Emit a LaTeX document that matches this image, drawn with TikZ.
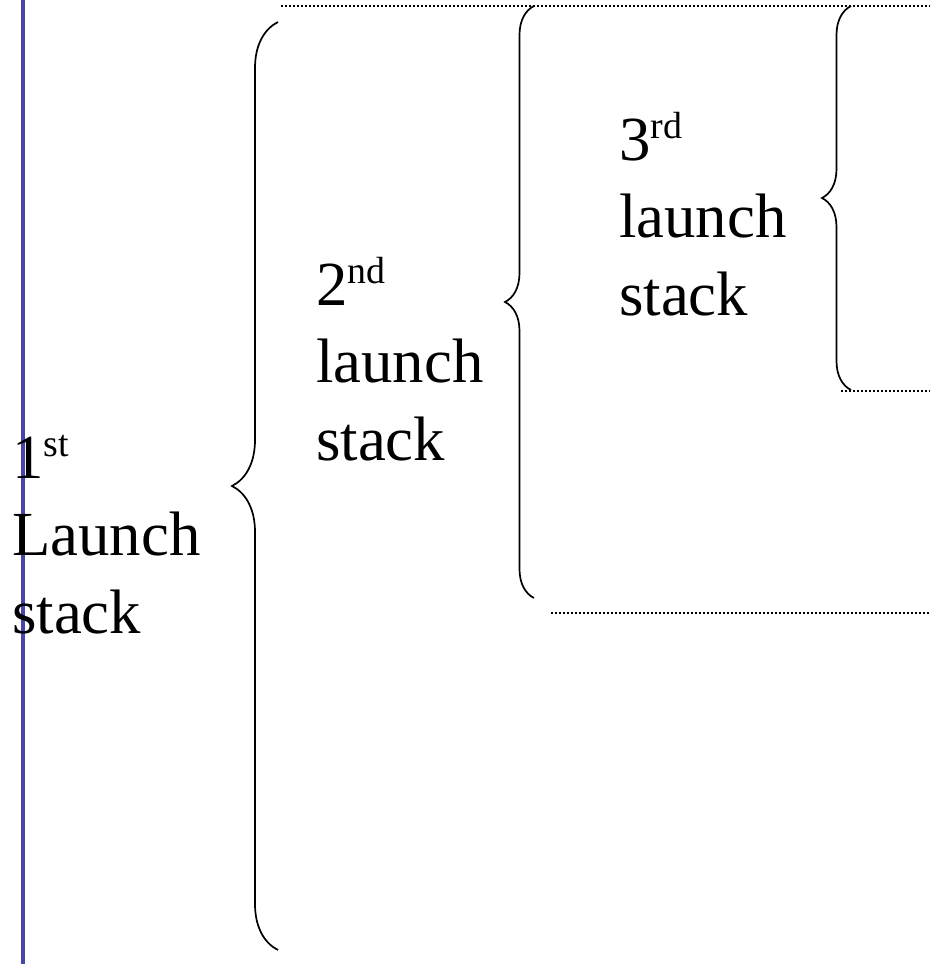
\documentclass[tikz,border=0pt]{standalone}
\usepackage{fontspec}
\setmainfont{Liberation Serif}
\newfontfamily\stackfont{Liberation Serif}
\usepackage{tikz}
\usetikzlibrary{decorations.pathreplacing}
\definecolor{rulec}{HTML}{4646AA}
\newcommand\ordsup[1]{\raisebox{22bp}{\fontsize{38}{38}\selectfont #1}}
\tikzset{
  stacklabel/.style={anchor=base west, align=left, inner sep=0pt,
              font=\stackfont\fontsize{63}{77.5}\selectfont},
  bigbrace/.style={draw, line width=1.7bp, decorate,
              decoration={brace, amplitude=#1}},
  dotline/.style={line width=1.6bp, dash pattern=on 1.6bp off 2.4bp},
}
\begin{document}
\begin{tikzpicture}[x=1bp, y=-1bp]
\useasboundingbox (0,0) rectangle (930,964);
\fill[white] (0,0) rectangle (930,964);
% left rule
\coordinate (ruletop) at (23,0);
\coordinate (rulebot) at (23,964);
\draw[rulec, line width=4bp] (ruletop) -- (rulebot);

% labels (anchored at the last line)
\node[stacklabel] (first) at (12,633) {1\ordsup{st}\\Launch\\stack};
\node[stacklabel] (second) at (316,460) {2\ordsup{nd}\\launch\\stack};
\node[stacklabel] (third) at (619,315) {3\ordsup{rd}\\launch\\stack};

% braces
\coordinate (b1top) at (278,22);
\coordinate (b1bot) at (278,950);
\coordinate (b2top) at (534,6);
\coordinate (b2bot) at (534,598);
\coordinate (b3top) at (851,6);
\coordinate (b3bot) at (851,390);
\draw[bigbrace=46bp] (b1bot) -- (b1top);
\draw[bigbrace=29bp] (b2bot) -- (b2top);
\draw[bigbrace=29bp] (b3bot) -- (b3top);

% dotted levels
\coordinate (topl) at (281,6);
\coordinate (topr) at (930,6);
\coordinate (midl) at (841,391);
\coordinate (midr) at (930,391);
\coordinate (lowl) at (551,613);
\coordinate (lowr) at (930,613);
\draw[dotline] (topl) -- (topr);
\draw[dotline] (midl) -- (midr);
\draw[dotline] (lowl) -- (lowr);
\end{tikzpicture}
\end{document}
